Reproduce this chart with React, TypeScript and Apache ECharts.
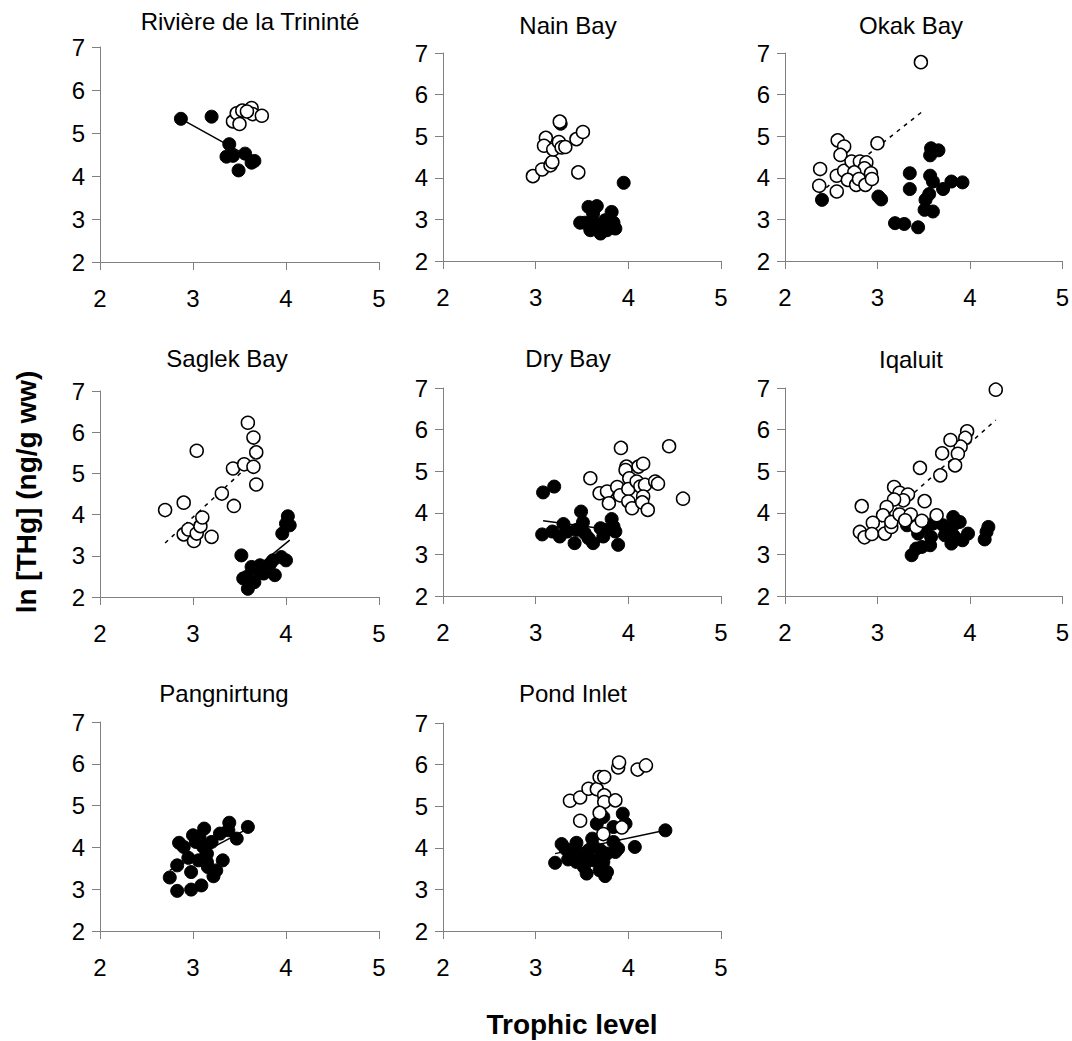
import React, { useEffect, useRef } from "react";
import * as echarts from "echarts";

const FONT = '"Liberation Sans", Arial, sans-serif';

const panelTitles = [
  "Rivière de la Trininté",
  "Nain Bay",
  "Okak Bay",
  "Saglek Bay",
  "Dry Bay",
  "Iqaluit",
  "Pangnirtung",
  "Pond Inlet",
];

const xTicks = [2, 3, 4, 5];
const yTicks = [2, 3, 4, 5, 6, 7];

// Rivière de la Trininté
const riviereFilled = [
  [2.87, 5.33], [3.2, 5.38], [3.39, 4.74], [3.36, 4.45], [3.43, 4.47],
  [3.56, 4.52], [3.63, 4.31], [3.66, 4.35], [3.49, 4.13],
];
const riviereOpen = [
  [3.43, 5.27], [3.47, 5.46], [3.53, 5.52], [3.63, 5.58], [3.64, 5.44],
  [3.74, 5.4], [3.5, 5.21], [3.58, 5.5],
];
const riviereFilledLine = [[2.87, 5.33], [3.66, 4.38]];

// Nain Bay
const nainFilled = [
  [3.95, 3.88], [3.48, 2.92], [3.57, 3.3], [3.66, 3.32], [3.61, 2.98],
  [3.59, 2.74], [3.7, 2.66], [3.68, 2.82], [3.75, 2.98], [3.82, 3.18],
  [3.84, 2.92], [3.86, 2.78], [3.77, 2.74], [3.62, 3.14], [3.53, 2.92],
  [3.27, 5.3],
];
const nainOpen = [
  [2.97, 4.04], [3.07, 4.2], [3.16, 4.3], [3.18, 4.38], [3.11, 4.96],
  [3.09, 4.77], [3.19, 4.68], [3.25, 4.86], [3.28, 4.73], [3.32, 4.74],
  [3.26, 5.35], [3.44, 4.93], [3.51, 5.1], [3.46, 4.13],
];

// Okak Bay
const okakFilled = [
  [2.4, 3.47], [3.01, 3.55], [3.04, 3.48], [3.19, 2.91], [3.29, 2.89],
  [3.44, 2.81], [3.35, 4.11], [3.35, 3.73], [3.58, 4.71], [3.66, 4.66],
  [3.57, 4.54], [3.57, 4.05], [3.6, 3.91], [3.56, 3.61], [3.52, 3.47],
  [3.51, 3.23], [3.6, 3.19], [3.71, 3.73], [3.8, 3.91], [3.92, 3.89],
];
const okakOpen = [
  [3.47, 6.78], [3.0, 4.83], [2.57, 4.9], [2.64, 4.75], [2.6, 4.55],
  [2.38, 4.21], [2.37, 3.81], [2.56, 3.67], [2.56, 4.05], [2.64, 4.17],
  [2.72, 4.39], [2.81, 4.39], [2.88, 4.37], [2.86, 4.23], [2.75, 4.13],
  [2.68, 3.95], [2.77, 3.83], [2.8, 3.97], [2.87, 3.83], [2.93, 4.11],
  [2.94, 3.97],
];
const okakOpenLine = [[2.37, 3.63], [3.49, 5.6]];

// Saglek Bay
const saglekFilled = [
  [3.52, 3.01], [3.54, 2.45], [3.59, 2.2], [3.66, 2.36], [3.63, 2.73],
  [3.72, 2.77], [3.76, 2.57], [3.83, 2.81], [3.88, 2.53], [3.86, 2.89],
  [3.95, 2.97], [4.0, 2.89], [3.96, 3.54], [4.0, 3.78], [4.02, 3.96],
  [4.04, 3.74], [3.7, 2.65], [3.58, 2.49],
];
const saglekOpen = [
  [2.7, 4.11], [2.9, 4.29], [3.04, 5.55], [2.9, 3.52], [2.95, 3.64],
  [3.01, 3.36], [3.04, 3.54], [3.08, 3.72], [3.1, 3.93], [3.2, 3.46],
  [3.31, 4.51], [3.44, 4.21], [3.43, 5.12], [3.55, 5.22], [3.59, 6.23],
  [3.65, 5.87], [3.68, 5.51], [3.65, 5.16], [3.68, 4.73],
];
const saglekFilledLine = [[3.52, 2.42], [4.04, 3.38]];
const saglekOpenLine = [[2.7, 3.31], [3.68, 5.36]];

// Dry Bay
const dryFilled = [
  [3.08, 4.49], [3.2, 4.63], [3.07, 3.48], [3.18, 3.55], [3.26, 3.43],
  [3.3, 3.73], [3.34, 3.55], [3.42, 3.27], [3.49, 4.03], [3.51, 3.77],
  [3.53, 3.51], [3.57, 3.39], [3.62, 3.27], [3.7, 3.63], [3.73, 3.43],
  [3.82, 3.85], [3.84, 3.67], [3.86, 3.55], [3.89, 3.23], [3.44, 3.59],
  [3.77, 3.59],
];
const dryOpen = [
  [3.92, 5.56], [4.44, 5.6], [3.59, 4.83], [3.69, 4.47], [3.77, 4.51],
  [3.79, 4.23], [3.88, 4.62], [3.91, 4.42], [3.98, 5.11], [3.97, 5.03],
  [4.01, 4.83], [4.0, 4.57], [4.0, 4.27], [4.04, 4.11], [4.11, 5.11],
  [4.16, 5.18], [4.09, 4.75], [4.13, 4.63], [4.18, 4.67], [4.16, 4.39],
  [4.15, 4.25], [4.21, 4.07], [4.29, 4.75], [4.32, 4.7], [4.59, 4.34],
];
const dryFilledLine = [[3.08, 3.81], [3.89, 3.57]];

// Iqaluit
const iqaluitFilled = [
  [3.37, 2.98], [3.42, 3.14], [3.48, 3.18], [3.57, 3.22], [3.58, 3.42],
  [3.44, 3.5], [3.32, 3.7], [3.53, 3.66], [3.6, 3.74], [3.71, 3.7],
  [3.82, 3.9], [3.84, 3.74], [3.89, 3.78], [3.73, 3.46], [3.8, 3.26],
  [3.85, 3.38], [3.92, 3.34], [3.98, 3.5], [3.82, 3.46], [3.76, 3.58],
  [4.16, 3.36], [4.2, 3.66], [4.18, 3.54],
];
const iqaluitOpen = [
  [4.28, 6.96], [3.97, 5.96], [3.95, 5.8], [3.9, 5.59], [3.87, 5.42],
  [3.79, 5.75], [3.7, 5.43], [3.84, 5.14], [3.68, 4.9], [3.46, 5.08],
  [3.18, 4.62], [3.24, 4.48], [3.33, 4.44], [3.28, 4.3], [3.18, 4.32],
  [3.1, 4.14], [3.06, 3.94], [2.95, 3.76], [2.83, 4.16], [2.81, 3.54],
  [2.86, 3.41], [2.94, 3.49], [3.08, 3.5], [3.15, 3.66], [3.15, 3.78],
  [3.24, 3.96], [3.36, 3.96], [3.42, 3.66], [3.48, 3.81], [3.51, 4.28],
  [3.64, 3.94], [3.3, 3.82],
];
const iqaluitOpenLine = [[2.82, 3.34], [4.28, 6.23]];

// Pangnirtung
const pangFilled = [
  [2.75, 3.28], [2.83, 2.96], [2.83, 3.57], [2.85, 4.11], [2.9, 4.01],
  [2.95, 3.75], [2.98, 2.99], [2.98, 3.41], [3.0, 4.29], [3.03, 4.13],
  [3.06, 3.69], [3.09, 3.09], [3.12, 4.45], [3.11, 4.01], [3.15, 3.85],
  [3.16, 3.53], [3.2, 4.13], [3.22, 3.31], [3.25, 3.45], [3.32, 3.69],
  [3.29, 4.33], [3.39, 4.59], [3.47, 4.21], [3.59, 4.49], [3.38, 4.41],
  [3.07, 4.25], [3.15, 3.65],
];
const pangFilledLine = [[2.75, 3.45], [3.59, 4.45]];

// Pond Inlet
const pondFilled = [
  [4.4, 4.42], [4.07, 4.02], [3.21, 3.64], [3.28, 4.09], [3.37, 3.86],
  [3.44, 4.12], [3.52, 3.54], [3.5, 3.78], [3.57, 3.94], [3.61, 4.22],
  [3.62, 3.7], [3.69, 3.46], [3.77, 3.42], [3.75, 3.32], [3.7, 3.94],
  [3.77, 3.86], [3.66, 4.58], [3.73, 4.74], [3.84, 4.5], [3.94, 4.82],
  [3.97, 4.58], [3.89, 3.98], [3.84, 4.14], [3.35, 3.72], [3.44, 3.66],
  [3.55, 3.7], [3.32, 3.98], [3.43, 3.98], [3.73, 3.66], [3.86, 3.9],
  [3.55, 3.38], [3.62, 4.05],
];
const pondOpen = [
  [3.37, 5.13], [3.48, 5.21], [3.57, 5.42], [3.66, 5.41], [3.69, 5.7],
  [3.74, 5.7], [3.74, 5.26], [3.74, 5.1], [3.86, 5.14], [3.89, 5.93],
  [3.9, 6.05], [4.1, 5.88], [4.19, 5.98], [3.48, 4.65], [3.69, 4.84],
  [3.73, 4.33], [3.93, 4.49],
];
const pondFilledLine = [[3.21, 3.86], [4.4, 4.42]];

// layout (pixel boxes of plot areas and title centres)
const grids = [
  { l: 100, t: 47, r: 379, b: 262 },
  { l: 443, t: 53, r: 721, b: 261 },
  { l: 785, t: 53, r: 1063, b: 261 },
  { l: 100, t: 391, r: 379, b: 597 },
  { l: 443, t: 388, r: 721, b: 596 },
  { l: 785, t: 388, r: 1063, b: 596 },
  { l: 100, t: 722, r: 379, b: 931 },
  { l: 443, t: 723, r: 721, b: 931 },
];
const titlePos = [
  [250, 21], [568, 25], [911, 25], [227, 358], [568, 358], [911, 359], [224, 693], [573, 693],
];

const panels = [
  { filled: riviereFilled, open: riviereOpen, solid: riviereFilledLine, dashed: null },
  { filled: nainFilled, open: nainOpen, solid: null, dashed: null },
  { filled: okakFilled, open: okakOpen, solid: null, dashed: okakOpenLine },
  { filled: saglekFilled, open: saglekOpen, solid: saglekFilledLine, dashed: saglekOpenLine },
  { filled: dryFilled, open: dryOpen, solid: dryFilledLine, dashed: null },
  { filled: iqaluitFilled, open: iqaluitOpen, solid: null, dashed: iqaluitOpenLine },
  { filled: pangFilled, open: [], solid: pangFilledLine, dashed: null },
  { filled: pondFilled, open: pondOpen, solid: pondFilledLine, dashed: null },
];

export default function App() {
  const ref = useRef<HTMLDivElement>(null);
  useEffect(() => {
    if (!ref.current) return;
    const chart = echarts.init(ref.current, null, { renderer: "svg" });
    const axisLine = { show: true, lineStyle: { color: "#808080", width: 1 } };
    const grid: any[] = [];
    const xAxis: any[] = [];
    const yAxis: any[] = [];
    const series: any[] = [];
    const graphic: any[] = [];
    panels.forEach((p, i) => {
      const g = grids[i];
      grid.push({ left: g.l, top: g.t, width: g.r - g.l, height: g.b - g.t, containLabel: false });
      xAxis.push({
        gridIndex: i, type: "value", min: xTicks[0], max: xTicks[xTicks.length - 1], interval: 1,
        axisLine, axisTick: { show: true, length: 8, lineStyle: { color: "#808080" } },
        splitLine: { show: false },
        axisLabel: { color: "#000", fontSize: 24, fontFamily: FONT, margin: 24 },
      });
      yAxis.push({
        gridIndex: i, type: "value", min: yTicks[0], max: yTicks[yTicks.length - 1], interval: 1,
        axisLine, axisTick: { show: true, length: 8, lineStyle: { color: "#808080" } },
        splitLine: { show: false },
        axisLabel: { color: "#000", fontSize: 24, fontFamily: FONT, margin: 15 },
      });
      if (p.solid) {
        series.push({
          type: "line", xAxisIndex: i, yAxisIndex: i, data: p.solid, showSymbol: false, symbol: "none",
          lineStyle: { color: "#000", width: 1.5, opacity: 1 }, z: 1, silent: true,
        });
      }
      if (p.dashed) {
        series.push({
          type: "line", xAxisIndex: i, yAxisIndex: i, data: p.dashed, showSymbol: false, symbol: "none",
          lineStyle: { color: "#000", width: 1.5, type: [4, 5], opacity: 1 }, z: 1, silent: true,
        });
      }
      series.push({
        type: "scatter", xAxisIndex: i, yAxisIndex: i, data: p.filled, symbol: "circle", symbolSize: 13,
        itemStyle: { color: "#000", borderColor: "#000", borderWidth: 1, opacity: 1 }, z: 2,
      });
      if (p.open.length) {
        series.push({
          type: "scatter", xAxisIndex: i, yAxisIndex: i, data: p.open, symbol: "circle", symbolSize: 13,
          itemStyle: { color: "#fff", borderColor: "#000", borderWidth: 1.5, opacity: 1 }, z: 3,
        });
      }
      graphic.push({
        type: "text", x: titlePos[i][0], y: titlePos[i][1],
        style: { text: panelTitles[i], fontSize: 24, fontFamily: FONT, fill: "#000", textAlign: "center", textVerticalAlign: "middle" },
      });
    });
    graphic.push({
      type: "text", x: 572, y: 1024,
      style: { text: "Trophic level", fontSize: 28, fontWeight: "bold", fontFamily: FONT, fill: "#000", textAlign: "center", textVerticalAlign: "middle" },
    });
    graphic.push({
      type: "text", x: 26, y: 492, rotation: Math.PI / 2,
      style: { text: "ln [THg] (ng/g ww)", fontSize: 28, fontWeight: "bold", fontFamily: FONT, fill: "#000", textAlign: "center", textVerticalAlign: "middle" },
    });
    chart.setOption({
      animation: false,
      backgroundColor: "#fff",
      grid, xAxis, yAxis, series, graphic,
    });
    return () => chart.dispose();
  }, []);
  return (
    <div
      ref={ref}
      style={{ position: "fixed", left: 0, top: 0, width: 1072, height: 1041, background: "#fff" }}
    />
  );
}
